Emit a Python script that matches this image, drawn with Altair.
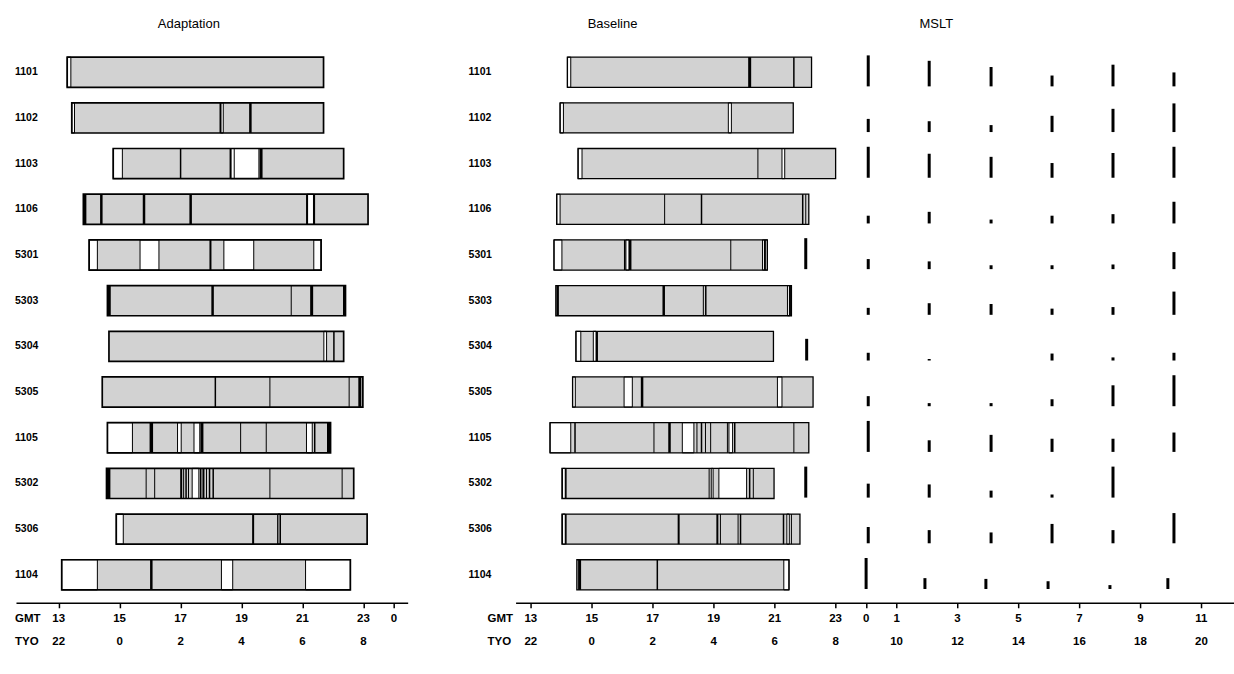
import altair as alt
import pandas as pd

# Subjects, top to bottom
ROWS = ["1101", "1102", "1103", "1106", "5301", "5303",
        "5304", "5305", "1105", "5302", "5306", "1104"]

# ---- Adaptation night: time in bed (GMT hours) ----
ADAPT_START = [13.28, 13.43, 14.79, 13.81, 14.00, 14.60, 14.65, 14.43, 14.60, 14.57, 14.89, 13.10]
ADAPT_END = [21.69, 21.69, 22.35, 23.15, 21.61, 22.41, 22.35, 22.98, 21.92, 22.68, 23.12, 22.57]

# wake periods inside the bed period (row, from, to)
ADAPT_WAKE = [
    ("1101", 13.28, 13.40),
    ("1102", 13.43, 13.52), ("1102", 18.31, 18.40),
    ("1103", 14.79, 15.09), ("1103", 18.64, 19.57),
    ("1106", 21.15, 21.36),
    ("5301", 14.00, 14.27), ("5301", 15.67, 16.29), ("5301", 18.42, 19.40), ("5301", 21.37, 21.61),
    ("5304", 21.70, 21.79),
    ("1105", 14.60, 15.42), ("1105", 16.90, 17.02), ("1105", 17.44, 17.63), ("1105", 21.13, 21.32),
    ("5302", 17.38, 17.60),
    ("5306", 14.89, 15.12), ("5306", 20.19, 20.27),
    ("1104", 13.10, 14.27), ("1104", 18.34, 18.71), ("1104", 21.10, 22.57),
]

# brief arousals / stage boundaries (row, time, line weight)
ADAPT_LINES = [
    ("1102", 18.31, 2.0), ("1102", 19.29, 2.5),
    ("1103", 17.00, 1.5), ("1103", 18.64, 2.0), ("1103", 18.76, 1.0), ("1103", 19.64, 3.0),
    ("1106", 13.86, 3.0), ("1106", 14.40, 2.5), ("1106", 15.80, 2.5), ("1106", 17.33, 2.5),
    ("1106", 21.15, 2.0), ("1106", 21.38, 2.0),
    ("5301", 17.98, 2.0),
    ("5303", 14.66, 3.0), ("5303", 18.05, 2.5), ("5303", 20.63, 1.0), ("5303", 21.30, 3.0),
    ("5303", 22.37, 2.5),
    ("5304", 22.03, 1.5),
    ("5305", 18.14, 1.5), ("5305", 19.93, 1.0), ("5305", 22.53, 1.0), ("5305", 22.88, 3.0),
    ("1105", 16.04, 3.5), ("1105", 17.70, 3.0), ("1105", 18.97, 1.0), ("1105", 19.81, 1.0),
    ("1105", 21.40, 1.5), ("1105", 21.86, 3.5),
    ("5302", 14.64, 3.5), ("5302", 15.87, 1.0), ("5302", 16.15, 1.0), ("5302", 17.02, 2.0),
    ("5302", 17.10, 1.0), ("5302", 17.18, 1.5), ("5302", 17.26, 1.0), ("5302", 17.66, 1.5),
    ("5302", 17.75, 2.0), ("5302", 17.85, 1.0), ("5302", 17.95, 1.5), ("5302", 18.07, 1.5),
    ("5302", 19.93, 1.0), ("5302", 22.30, 1.0),
    ("5306", 19.38, 2.0), ("5306", 20.19, 1.0), ("5306", 20.27, 1.5),
    ("1104", 16.04, 2.5),
]

# ---- Baseline night ----
BASE_START = [14.20, 13.96, 14.55, 13.85, 13.76, 13.82, 14.48, 14.37, 13.63, 14.02, 14.02, 14.51]
BASE_END = [22.21, 21.61, 23.00, 22.12, 20.76, 21.55, 20.96, 22.26, 22.12, 20.98, 21.83, 21.47]

BASE_WAKE = [
    ("1101", 14.20, 14.31),
    ("1102", 13.96, 14.07), ("1102", 19.48, 19.58),
    ("1103", 14.55, 14.68), ("1103", 21.24, 21.33),
    ("1106", 13.85, 13.96),
    ("5301", 13.76, 14.02), ("5301", 16.12, 16.22), ("5301", 20.60, 20.76),
    ("5303", 21.42, 21.50),
    ("5304", 14.48, 14.64), ("5304", 15.05, 15.14),
    ("5305", 14.37, 14.46), ("5305", 16.06, 16.33), ("5305", 21.09, 21.24),
    ("1105", 13.63, 14.31), ("1105", 17.97, 18.35), ("1105", 19.50, 19.62),
    ("5302", 14.04, 14.13), ("5302", 18.92, 18.98), ("5302", 19.17, 20.08),
    ("5306", 14.04, 14.13), ("5306", 21.40, 21.48),
    ("1104", 21.30, 21.47),
]

BASE_LINES = [
    ("1101", 20.18, 3.0), ("1101", 21.63, 1.5),
    ("1103", 20.45, 1.0),
    ("1106", 17.39, 1.0), ("1106", 18.60, 1.5), ("1106", 21.92, 1.5), ("1106", 22.02, 1.0),
    ("5301", 16.08, 1.5), ("5301", 16.26, 2.5), ("5301", 19.56, 1.0), ("5301", 20.68, 2.0),
    ("5303", 13.88, 2.5), ("5303", 17.36, 2.5), ("5303", 18.66, 1.0), ("5303", 18.74, 1.5),
    ("5303", 21.50, 2.0),
    ("5304", 15.17, 2.0),
    ("5305", 16.65, 2.5),
    ("1105", 14.45, 1.5), ("1105", 17.04, 1.0), ("1105", 17.55, 2.5), ("1105", 18.45, 1.0),
    ("1105", 18.60, 1.5), ("1105", 18.73, 1.0), ("1105", 18.90, 1.0), ("1105", 19.45, 1.0),
    ("1105", 19.69, 1.5), ("1105", 21.63, 1.0),
    ("5302", 14.15, 1.5), ("5302", 18.85, 1.0), ("5302", 20.18, 1.5), ("5302", 20.30, 1.0),
    ("5306", 14.15, 1.5), ("5306", 17.85, 2.0), ("5306", 19.12, 2.0), ("5306", 19.22, 1.0),
    ("5306", 19.80, 1.0), ("5306", 19.88, 1.5), ("5306", 21.29, 1.5), ("5306", 21.55, 1.0),
    ("1104", 14.60, 3.0), ("1104", 17.15, 1.5),
]

# ---- MSLT: nap times (GMT, hours after midnight + 24) and sleep latency (min) ----
NAP_TIMES = [24.07, 26.07, 28.10, 30.10, 32.10, 34.10]
NAP_TIMES_1104 = [24.00, 25.93, 27.93, 29.97, 32.00, 33.90]
MSLT_LATENCY = [
    [20.0, 16.5, 12.5, 7.0, 14.0, 9.0],     # 1101
    [8.5, 7.0, 4.5, 10.5, 15.0, 18.5],      # 1102
    [20.0, 15.5, 13.5, 9.5, 16.0, 20.0],    # 1103
    [5.0, 7.5, 2.5, 5.0, 6.0, 14.0],        # 1106
    [6.5, 5.0, 2.5, 2.5, 3.0, 11.0],        # 5301
    [4.5, 7.5, 7.0, 4.0, 5.0, 15.0],        # 5303
    [5.0, 1.0, None, 4.5, 2.0, 5.0],        # 5304
    [6.5, 2.0, 2.0, 4.5, 13.5, 20.0],       # 5305
    [20.0, 7.5, 11.0, 8.5, 8.5, 12.5],      # 1105
    [9.0, 8.5, 4.5, 2.0, 20.0, None],       # 5302
    [10.5, 8.5, 7.0, 12.5, 8.5, 19.5],      # 5306
    [20.0, 7.0, 6.5, 5.0, 2.5, 7.0],        # 1104
]
# evening test naps shown next to the baseline bars
LATE_NAPS = [("5301", 22.02, 20.0), ("5304", 22.05, 14.0), ("5302", 22.02, 20.0)]

# ---- time axes ----
ADAPT_TICKS = [13, 15, 17, 19, 21, 23, 24]
ADAPT_GMT_LABELS = ["13", "15", "17", "19", "21", "23", "0"]
ADAPT_TYO_TICKS = [13, 15, 17, 19, 21, 23]
ADAPT_TYO_LABELS = ["22", "0", "2", "4", "6", "8"]

BASE_TICKS = [13, 15, 17, 19, 21, 23, 24, 25, 27, 29, 31, 33, 35]
BASE_GMT_LABELS = ["13", "15", "17", "19", "21", "23", "0", "1", "3", "5", "7", "9", "11"]
BASE_TYO_TICKS = [13, 15, 17, 19, 21, 23, 25, 27, 29, 31, 33, 35]
BASE_TYO_LABELS = ["22", "0", "2", "4", "6", "8", "10", "12", "14", "16", "18", "20"]

FONT = "Liberation Sans"
STIPPLE = "#d2d2d2"
H = 554
HALF = 0.33          # half bar height in row units
Y_SCALE = alt.Scale(domain=[-0.503, 11.612], reverse=True, nice=False, zero=False)
NO_FRAME = alt.ViewBackground(stroke="transparent", strokeWidth=0)


def idx(r):
    return ROWS.index(r)


def bars_frame(start, end):
    return pd.DataFrame({"row": ROWS, "i": range(len(ROWS)), "start": start, "end": end})


def wake_frame(wake):
    return pd.DataFrame([{"row": r, "i": idx(r), "start": a, "end": b} for r, a, b in wake])


def lines_frame(lines):
    return pd.DataFrame([{"row": r, "i": idx(r), "t": t, "w": w} for r, t, w in lines])


def panel(start, end, wake, lines, ticks, gmt_labels, tyo_ticks, tyo_labels,
          domain, width, label_x, caption_x, titles, box_width, extra=None):
    xs = alt.Scale(domain=domain, nice=False, zero=False)
    ybar = dict(y=alt.Y("y0:Q", scale=Y_SCALE, axis=None), y2="y1:Q")
    band = {"y0": f"datum.i - {HALF}", "y1": f"datum.i + {HALF}"}

    fill = alt.Chart(bars_frame(start, end)).transform_calculate(**band).mark_rect(
        fill=STIPPLE, strokeWidth=0
    ).encode(
        x=alt.X("start:Q", scale=xs, title=None,
                axis=alt.Axis(values=ticks, labels=False, grid=False, tickSize=5,
                              tickWidth=1.5, domainWidth=1.6, domainColor="black",
                              tickColor="black")),
        x2="end:Q", **ybar,
    )
    wk = alt.Chart(wake_frame(wake)).transform_calculate(**band).mark_rect(
        fill="white", stroke="black", strokeWidth=1
    ).encode(x=alt.X("start:Q", scale=xs), x2="end:Q", **ybar)
    ln = alt.Chart(lines_frame(lines)).transform_calculate(**band).mark_rule(
        color="black"
    ).encode(x=alt.X("t:Q", scale=xs), strokeWidth=alt.StrokeWidth("w:Q", scale=None),
             **ybar)
    outline = alt.Chart(bars_frame(start, end)).transform_calculate(**band).mark_rect(
        fillOpacity=0, stroke="black", strokeWidth=box_width
    ).encode(x=alt.X("start:Q", scale=xs), x2="end:Q", **ybar)

    row_lab = alt.Chart(pd.DataFrame({"row": ROWS, "i": range(len(ROWS))})).mark_text(
        align="left", baseline="middle", font=FONT, fontSize=10.5, fontWeight="bold",
        color="black"
    ).encode(x=alt.value(label_x), y=alt.Y("i:Q", scale=Y_SCALE, axis=None), text="row:N")

    gmt = alt.Chart(pd.DataFrame({"t": ticks, "lab": gmt_labels})).mark_text(
        baseline="middle", font=FONT, fontSize=11.5, fontWeight="bold", color="black"
    ).encode(x=alt.X("t:Q", scale=xs), y=alt.value(H + 16), text="lab:N")
    tyo = alt.Chart(pd.DataFrame({"t": tyo_ticks, "lab": tyo_labels})).mark_text(
        baseline="middle", font=FONT, fontSize=11.5, fontWeight="bold", color="black"
    ).encode(x=alt.X("t:Q", scale=xs), y=alt.value(H + 39), text="lab:N")
    cap = alt.Chart(pd.DataFrame({"lab": ["GMT", "TYO"], "yy": [H + 16, H + 39]})).mark_text(
        align="left", baseline="middle", font=FONT, fontSize=11.5, fontWeight="bold",
        color="black"
    ).encode(x=alt.value(caption_x), y=alt.Y("yy:Q", scale=None), text="lab:N")

    ttl = alt.Chart(pd.DataFrame({"lab": [t[0] for t in titles],
                                  "xx": [t[1] for t in titles]})).mark_text(
        align="center", baseline="middle", font=FONT, fontSize=13, color="black"
    ).encode(x=alt.X("xx:Q", scale=None), y=alt.value(-25), text="lab:N")

    layers = [fill, wk, ln, outline]
    if extra is not None:
        layers += extra(xs)
    layers += [row_lab, gmt, tyo, cap, ttl]
    return alt.layer(*layers).properties(width=width, height=H, view=NO_FRAME)


def mslt_layers(xs):
    recs = []
    for i, r in enumerate(ROWS):
        times = NAP_TIMES_1104 if r == "1104" else NAP_TIMES
        for t, lat in zip(times, MSLT_LATENCY[i]):
            if lat is not None:
                recs.append({"row": r, "i": i, "t": t, "lat": lat})
    for r, t, lat in LATE_NAPS:
        recs.append({"row": r, "i": idx(r), "t": t, "lat": lat})
    naps = alt.Chart(pd.DataFrame(recs)).transform_calculate(
        yb="datum.i + 0.31", yt="datum.i + 0.31 - datum.lat * 0.0339"
    ).mark_rule(color="black", strokeWidth=3).encode(
        x=alt.X("t:Q", scale=xs),
        y=alt.Y("yb:Q", scale=Y_SCALE, axis=None), y2="yt:Q",
    )
    return [naps]


left = panel(ADAPT_START, ADAPT_END, ADAPT_WAKE, ADAPT_LINES, ADAPT_TICKS,
             ADAPT_GMT_LABELS, ADAPT_TYO_TICKS, ADAPT_TYO_LABELS,
             [11.6, 24.45], 392, -1, -1, [("Adaptation", 173)], 1.7)

right = panel(BASE_START, BASE_END, BASE_WAKE, BASE_LINES, BASE_TICKS,
              BASE_GMT_LABELS, BASE_TYO_TICKS, BASE_TYO_LABELS,
              [12.5, 36.07], 719, -47, -28, [("Baseline", 97), ("MSLT", 421)], 1.3,
              extra=mslt_layers)

chart = alt.hconcat(left, right, spacing=61).properties(
    padding={"left": 15, "top": 18, "right": 0, "bottom": 0},
    background="white",
).configure_view(strokeWidth=0, stroke="transparent")

chart.save("out.html", embed_options={"renderer": "svg", "actions": False})
